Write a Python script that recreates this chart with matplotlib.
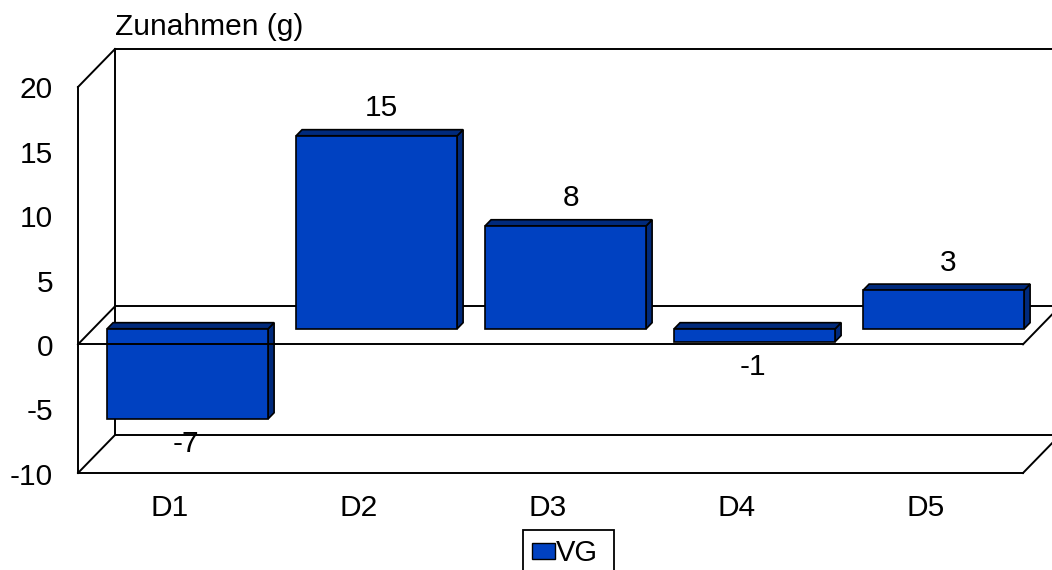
import matplotlib
matplotlib.use("Agg")
import matplotlib.pyplot as plt
from matplotlib.patches import Polygon, Rectangle
from matplotlib.transforms import IdentityTransform

categories = ["D1", "D2", "D3", "D4", "D5"]
values = [-7, 15, 8, -1, 3]
series_name = "VG"
y_ticks = [-10, -5, 0, 5, 10, 15, 20]
y_label = "Zunahmen (g)"

W, H, DPI = 1052, 570, 100
plt.rcParams['font.family'] = ['Liberation Sans', 'DejaVu Sans']
fig = plt.figure(figsize=(W / DPI, H / DPI), dpi=DPI)
fig.patch.set_facecolor('white')

# front plane of the box (pixel rows counted from the top)
FX0, FX1, FY_TOP, FY_BOT = 78, 1023, 87, 473
ax = fig.add_axes([FX0 / W, 1 - FY_BOT / H, (FX1 - FX0) / W, (FY_BOT - FY_TOP) / H])
ax.set_xlim(0, len(categories))
ax.set_ylim(y_ticks[0], y_ticks[-1])
ax.axis('off')

DEPTH = (37.0, 38.0)          # offset of the back wall, pixels
FRONT_D, BACK_D = 0.41, 0.57  # depth of the bar faces (fraction of the box)
HALF = 0.426                  # half bar width in category units
LW = 1.4
BLUE = '#0041c1'
BLUE_DARK = '#002a7c'
ID = IdentityTransform()


def px(x, y, d=0.0):
    X, Y = ax.transData.transform((x, y))
    return (X + d * DEPTH[0], Y + d * DEPTH[1])


def seg(p, q, z):
    ax.add_line(plt.Line2D([p[0], q[0]], [p[1], q[1]], transform=ID,
                           color='black', lw=LW, clip_on=False, zorder=z,
                           solid_capstyle='projecting'))


n = len(categories)
ymin, ymax = y_ticks[0], y_ticks[-1]

# back wall, back edge of the floor and of the zero plane
seg(px(0, ymin, 1), px(0, ymax, 1), 1)
seg(px(0, ymax, 1), px(n, ymax, 1), 1)
seg(px(0, ymin, 1), px(n, ymin, 1), 1)
seg(px(0, 0, 1), px(n, 0, 1), 1)

# bars
for i, v in enumerate(values):
    c = i + 0.5
    lo, hi = min(0, v), max(0, v)
    side = [px(c + HALF, lo, FRONT_D), px(c + HALF, hi, FRONT_D),
            px(c + HALF, hi, BACK_D), px(c + HALF, lo, BACK_D)]
    top = [px(c - HALF, hi, FRONT_D), px(c + HALF, hi, FRONT_D),
           px(c + HALF, hi, BACK_D), px(c - HALF, hi, BACK_D)]
    front = [px(c - HALF, lo, FRONT_D), px(c + HALF, lo, FRONT_D),
             px(c + HALF, hi, FRONT_D), px(c - HALF, hi, FRONT_D)]
    for pts, col in ((side, BLUE_DARK), (top, BLUE_DARK), (front, BLUE)):
        ax.add_patch(Polygon(pts, closed=True, transform=ID, facecolor=col,
                             edgecolor='black', lw=1.2, joinstyle='miter',
                             clip_on=False, zorder=2))
    if v >= 0:
        ax.annotate(str(v), xy=(c, v), xytext=(20, 35), textcoords='offset pixels',
                    ha='center', va='baseline', fontsize=21.5, zorder=5)
    else:
        ax.annotate(str(v), xy=(c, v), xytext=(13, -18), textcoords='offset pixels',
                    ha='center', va='baseline', fontsize=21.5, zorder=5)

# front edges and depth diagonals
seg(px(0, ymin), px(0, ymax), 3)
seg(px(0, ymin), px(n, ymin), 3)
seg(px(0, 0), px(n, 0), 3)
for yy in (ymax, 0, ymin):
    seg(px(0, yy), px(0, yy, 1), 3)
for yy in (0, ymin):
    seg(px(n, yy), px(n, yy, 1), 3)

# value axis labels
for t in y_ticks:
    ax.annotate(str(t), xy=(0, t), xytext=(-25, -11.5), textcoords='offset pixels',
                ha='right', va='baseline', fontsize=21.5)

# category labels
for i, cat in enumerate(categories):
    ax.annotate(cat, xy=(i + 0.5, ymin), xytext=(-3, -43), textcoords='offset pixels',
                ha='center', va='baseline', fontsize=21.5)

# axis title above the back wall
ax.annotate(y_label, xy=(0, ymax), xytext=(DEPTH[0], DEPTH[1] + 14),
            textcoords='offset pixels', ha='left', va='baseline', fontsize=21.5)

# legend
def fpx(x, y):
    return (x / W, 1 - y / H)

fig.add_artist(Rectangle(fpx(523, 575), 91 / W, 45 / H, transform=fig.transFigure,
                         facecolor='white', edgecolor='black', lw=1.3))
fig.add_artist(Rectangle(fpx(532, 559), 23 / W, 16 / H, transform=fig.transFigure,
                         facecolor=BLUE, edgecolor='black', lw=1.0))
fig.text(*fpx(556, 561), series_name, ha='left', va='baseline', fontsize=21)

fig.savefig('out.png', dpi=DPI, facecolor='white')
